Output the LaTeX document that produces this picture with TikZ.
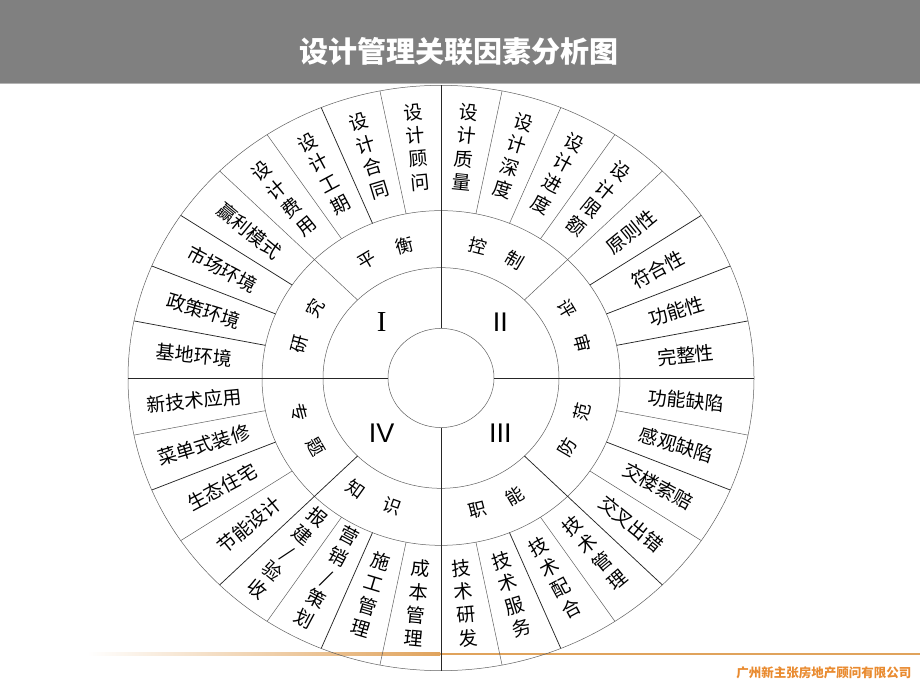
\documentclass[tikz,border=0pt]{standalone}
\usepackage{fontspec}
\newfontfamily\cjk{Noto Sans CJK SC}
\newfontfamily\lsans{Liberation Sans}
\newfontfamily\lserif{Liberation Serif}
\usetikzlibrary{positioning}
\definecolor{bandgray}{RGB}{128,128,128}
\definecolor{rulegold}{RGB}{224,163,92}
\definecolor{firmorange}{RGB}{233,139,48}
\definecolor{wheelgray}{RGB}{95,95,95}

\begin{document}
\begin{tikzpicture}[x=1pt,y=1pt,
    rim/.style={draw=wheelgray, line width=0.5pt},
    rimdark/.style={draw=black!85, line width=0.75pt},
    item/.style={font=\cjk\fontsize{19}{23.5}\selectfont, align=center, inner sep=0pt},
    tag/.style={font=\cjk\fontsize{18}{18}\selectfont, inner sep=0pt}]
  \useasboundingbox (0,0) rectangle (920,690);
  % header band
  \fill[bandgray] (0,606) rectangle (920,690);
  \draw[bandgray!60, line width=1pt] (0,606) -- (920,606);
  \node[text=white, font=\cjk\bfseries\fontsize{29}{29}\selectfont] (title) at (459,638) {设计管理关联因素分析图};
  % footer rule
  \shade[left color=white, right color=rulegold] (87,34.5) rectangle (440,37);
  \fill[rulegold] (440,34.5) rectangle (920,37);
  \node[anchor=east, text=firmorange, font=\cjk\bfseries\fontsize{12.5}{12.5}\selectfont] (firm) at (915,17) {广州新主张房地产顾问有限公司};

  \begin{scope}[shift={(441,312)}, yscale=0.935]
    \coordinate (hub) at (0,0);
    \foreach \r in {53,118,179,313}
      \draw[rim] (hub) circle (\r);
    % quadrants and sectors
    \foreach \a in {0,90,180,270}
      \draw[rimdark] (\a:53) -- (\a:313);
    \foreach \a in {45,135}
      \draw[rim] (\a:118) -- (\a:313);
    \foreach \a in {225,315}
      \draw[rimdark] (\a:118) -- (\a:313);
    \foreach \a in {56.25,67.5,78.75,101.25,123.75,191.25,213.75,236.25,258.75,281.25,303.75,326.25,348.75}
      \draw[rim] (\a:179) -- (\a:313);
    \foreach \a in {11.25,22.5,33.75,112.5,146.25,157.5,168.75,202.5,247.5,292.5,337.5}
      \draw[rimdark] (\a:179) -- (\a:313);

    % roman numerals
    \node[font=\lserif\fontsize{29}{29}\selectfont] (q1) at (135:84) {I};
    \node[font=\lsans\fontsize{27}{27}\selectfont] (q2) at (45:84) {II};
    \node[font=\lsans\fontsize{27}{27}\selectfont] (q3) at (-45:84) {III};
    \node[font=\lsans\fontsize{27}{27}\selectfont] (q4) at (225:84) {IV};

    % middle ring
    \foreach \a/\t [count=\i] in {120.5/平,104.5/衡,75.5/控,59.5/制,30.5/评,14.5/审,165.5/研,149.5/究}
      \node[tag, rotate=\a-90] (hi\i) at (\a:146) {\t};
    \foreach \a/\t [count=\i] in {-30.5/防,-14.5/范,-75.5/职,-59.5/能,234.5/知,250.5/识,194.5/专,210.5/题}
      \node[tag, rotate=\a+90] (lo\i) at (\a:146) {\t};

    % outer ring
    \foreach \a/\t [count=\i] in {50.625/{设\\计\\限\\额},61.875/{设\\计\\进\\度},73.125/{设\\计\\深\\度},84.375/{设\\计\\质\\量},95.625/{设\\计\\顾\\问},106.875/{设\\计\\合\\同},118.125/{设\\计\\工\\期},129.375/{设\\计\\费\\用}}
      \node[item, rotate=\a-90] (up\i) at (\a:248) {\t};
    \foreach \a/\t [count=\i] in {140.625/赢利模式,151.875/市场环境,163.125/政策环境,174.375/基地环境,185.625/新技术应用,196.875/菜单式装修,208.125/生态住宅,219.375/节能设计}
      \node[item, rotate=\a-180] (lf\i) at (\a:248) {\t};
    \foreach \a/\t [count=\i] in {39.375/原则性,28.125/符合性,16.875/功能性,5.625/完整性,-5.625/功能缺陷,-16.875/感观缺陷,-28.125/交楼索赔,-39.375/交叉出错}
      \node[item, rotate=\a] (rt\i) at (\a:246) {\t};
    \foreach \a/\t [count=\i] in {230.625/{报\\建\\/\\验\\收},241.875/{营\\销\\/\\策\\划},253.125/{施\\工\\管\\理},264.375/{成\\本\\管\\理},275.625/{技\\术\\研\\发},286.875/{技\\术\\服\\务},298.125/{技\\术\\配\\合},309.375/{技\\术\\管\\理}}
      \node[item, rotate=\a+90] (dn\i) at (\a:242) {\t};
  \end{scope}
\end{tikzpicture}
\end{document}
